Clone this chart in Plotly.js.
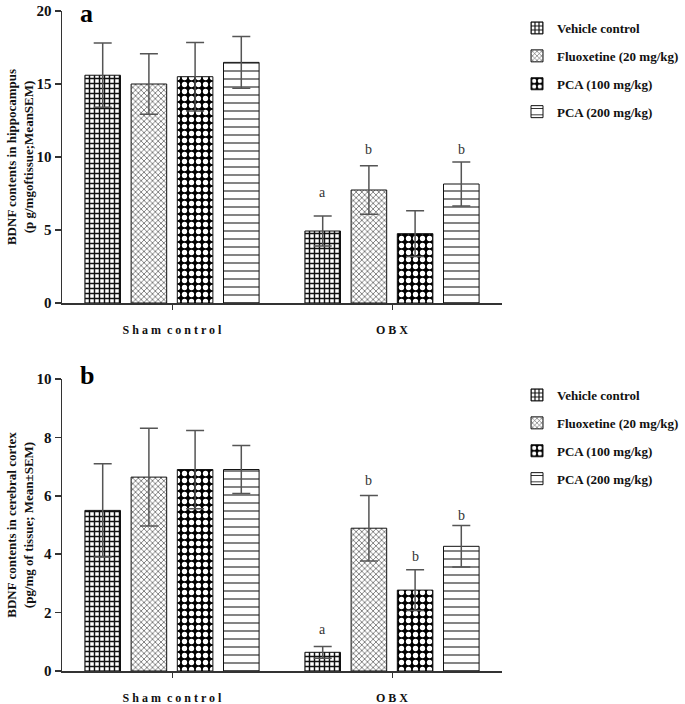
<!DOCTYPE html>
<html>
<head>
<meta charset="utf-8">
<script src="https://cdn.plot.ly/plotly-3.0.1.min.js"></script>
<style>html,body{margin:0;padding:0;background:#fff}#chart{width:685px;height:704px}</style>
</head>
<body>
<div id="chart"></div>
<script>
// ---- data ----
const groups = ["Sham control", "OBX"];
const groupLabels = ["S h a m\u00a0\u00a0c o n t r o l", "O B X"];
const seriesNames = ["Vehicle control", "Fluoxetine (20 mg/kg)", "PCA (100 mg/kg)", "PCA (200 mg/kg)"];

// Panel a: hippocampus
const hippoVehicle = [15.6, 4.93];
const hippoFluox   = [15.0, 7.74];
const hippoPCA100  = [15.5, 4.75];
const hippoPCA200  = [16.48, 8.15];
const hippoVehicleSem = [2.2, 1.03];
const hippoFluoxSem   = [2.08, 1.66];
const hippoPCA100Sem  = [2.35, 1.57];
const hippoPCA200Sem  = [1.77, 1.5];
const hippoLetters = ["a", "b", "", "b"];       // OBX group
const hippoLetterY = [7.6, 10.5, 0, 10.5];

// Panel b: cerebral cortex
const cortexVehicle = [5.5, 0.64];
const cortexFluox   = [6.64, 4.89];
const cortexPCA100  = [6.9, 2.77];
const cortexPCA200  = [6.9, 4.27];
const cortexVehicleSem = [1.6, 0.2];
const cortexFluoxSem   = [1.67, 1.12];
const cortexPCA100Sem  = [1.34, 0.7];
const cortexPCA200Sem  = [0.82, 0.71];
const cortexLetters = ["a", "b", "b", "b"];
const cortexLetterY = [1.42, 6.51, 3.91, 5.32];

const yTicksA = [0, 5, 10, 15, 20];
const yTicksB = [0, 2, 4, 6, 8, 10];

// ---- styles ----
const SERIF = "Times New Roman, Liberation Serif, serif";
const patterns = [
  {shape: "+", fgcolor: "#111", bgcolor: "#fff", size: 5, solidity: 0.5},
  {shape: "x", fgcolor: "#444", bgcolor: "#fff", size: 4, solidity: 0.3},
  {shape: ".", fgcolor: "#fff", bgcolor: "#000", size: 7, solidity: 0.45},
  {shape: "-", fgcolor: "#222", bgcolor: "#fff", size: 8, solidity: 0.14}
];

const BARGAP = 0.16, GROUPGAP = 0.23;

function makeTraces(vals, sems, xa, ya, legendId, prefix) {
  return vals.map((v, i) => ({
    type: "bar",
    name: seriesNames[i],
    x: groups, y: v,
    xaxis: xa, yaxis: ya,
    legend: legendId,
    legendgroup: prefix + i,
    marker: {color: "#fff", line: {color: "#111", width: 1}, pattern: patterns[i]},
    error_y: {type: "data", array: sems[i], visible: true, color: "#555", thickness: 1.5, width: 9},
    hoverinfo: "skip"
  }));
}

const traces = [
  ...makeTraces([hippoVehicle, hippoFluox, hippoPCA100, hippoPCA200],
                [hippoVehicleSem, hippoFluoxSem, hippoPCA100Sem, hippoPCA200Sem], "x", "y", "legend", "a"),
  ...makeTraces([cortexVehicle, cortexFluox, cortexPCA100, cortexPCA200],
                [cortexVehicleSem, cortexFluoxSem, cortexPCA100Sem, cortexPCA200Sem], "x2", "y2", "legend2", "b")
];

// letter annotations positioned at bar centers of OBX group
const slot = (1 - BARGAP) / seriesNames.length;
function barCenter(groupIdx, seriesIdx) {
  return groupIdx - (1 - BARGAP) / 2 + slot * (seriesIdx + 0.5);
}
const annotations = [];
hippoLetters.forEach((t, i) => {
  if (!t) return;
  annotations.push({xref: "x", yref: "y", x: barCenter(1, i), y: hippoLetterY[i], text: t, showarrow: false,
    font: {family: SERIF, size: 14, color: "#333"}});
});
cortexLetters.forEach((t, i) => {
  if (!t) return;
  annotations.push({xref: "x2", yref: "y2", x: barCenter(1, i), y: cortexLetterY[i], text: t, showarrow: false,
    font: {family: SERIF, size: 14, color: "#333"}});
});
const W = 685, H = 704;
annotations.push({xref: "paper", yref: "paper", x: 79/W, y: 1 + 2/H, xanchor: "left", yanchor: "top",
  text: "a", showarrow: false, borderpad: 0, font: {family: SERIF, size: 26, weight: "bold", color: "#000"}});
annotations.push({xref: "paper", yref: "paper", x: 79/W, y: 1 - 360/H, xanchor: "left", yanchor: "top",
  text: "b", showarrow: false, borderpad: 0, font: {family: SERIF, size: 26, weight: "bold", color: "#000"}});

const xDom = [62/W, 502/W];
const commonX = {
  type: "category", range: [-0.5, 1.5], tickmode: "array", tickvals: groups, ticktext: groupLabels,
  showline: true, linecolor: "#333", linewidth: 1.5, ticks: "outside", ticklen: 5, tickwidth: 1, tickcolor: "#333",
  ticklabelstandoff: 10,
  showgrid: false, zeroline: false, automargin: false,
  tickfont: {family: SERIF, size: 12, weight: "bold", color: "#111"}, domain: xDom, fixedrange: true
};
const commonY = {
  showline: true, linecolor: "#333", linewidth: 1.5, ticks: "outside", ticklen: 6, tickwidth: 1.5, tickcolor: "#333",
  showgrid: false, zeroline: false, automargin: false,
  tickfont: {family: SERIF, size: 15, weight: "bold", color: "#111"}, fixedrange: true
};
const legendCommon = {
  x: 517/W, xanchor: "left", yanchor: "top", bgcolor: "rgba(0,0,0,0)", borderwidth: 0,
  font: {family: SERIF, size: 13, weight: "bold", color: "#111"}, tracegroupgap: 8, traceorder: "grouped"
};

const layout = {
  width: W, height: H,
  margin: {l: 0, r: 0, t: 0, b: 0},
  paper_bgcolor: "#fff", plot_bgcolor: "#fff",
  barmode: "group", bargap: BARGAP, bargroupgap: GROUPGAP,
  showlegend: true,
  xaxis: Object.assign({}, commonX, {anchor: "y"}),
  xaxis2: Object.assign({}, commonX, {anchor: "y2"}),
  yaxis: Object.assign({}, commonY, {anchor: "x", domain: [1 - 303/H, 1 - 11/H], range: [0, 20], tickvals: yTicksA,
    title: {text: "BDNF contents in hippocampus<br>(p g/mgoftissue;MeanSEM)", standoff: 0,
      font: {family: SERIF, size: 13, weight: "bold", color: "#111"}}}),
  yaxis2: Object.assign({}, commonY, {anchor: "x2", domain: [1 - 671/H, 1 - 379/H], range: [0, 10], tickvals: yTicksB,
    title: {text: "BDNF contents in cerebral cortex<br>(pg/mg of tissue; Mean±SEM)", standoff: 0,
      font: {family: SERIF, size: 13, weight: "bold", color: "#111"}}}),
  legend: Object.assign({}, legendCommon, {y: 1 - 13/H}),
  legend2: Object.assign({}, legendCommon, {y: 1 - 380/H}),
  annotations: annotations
};

Plotly.newPlot("chart", traces, layout, {staticPlot: true, displayModeBar: false});
</script>
</body>
</html>
